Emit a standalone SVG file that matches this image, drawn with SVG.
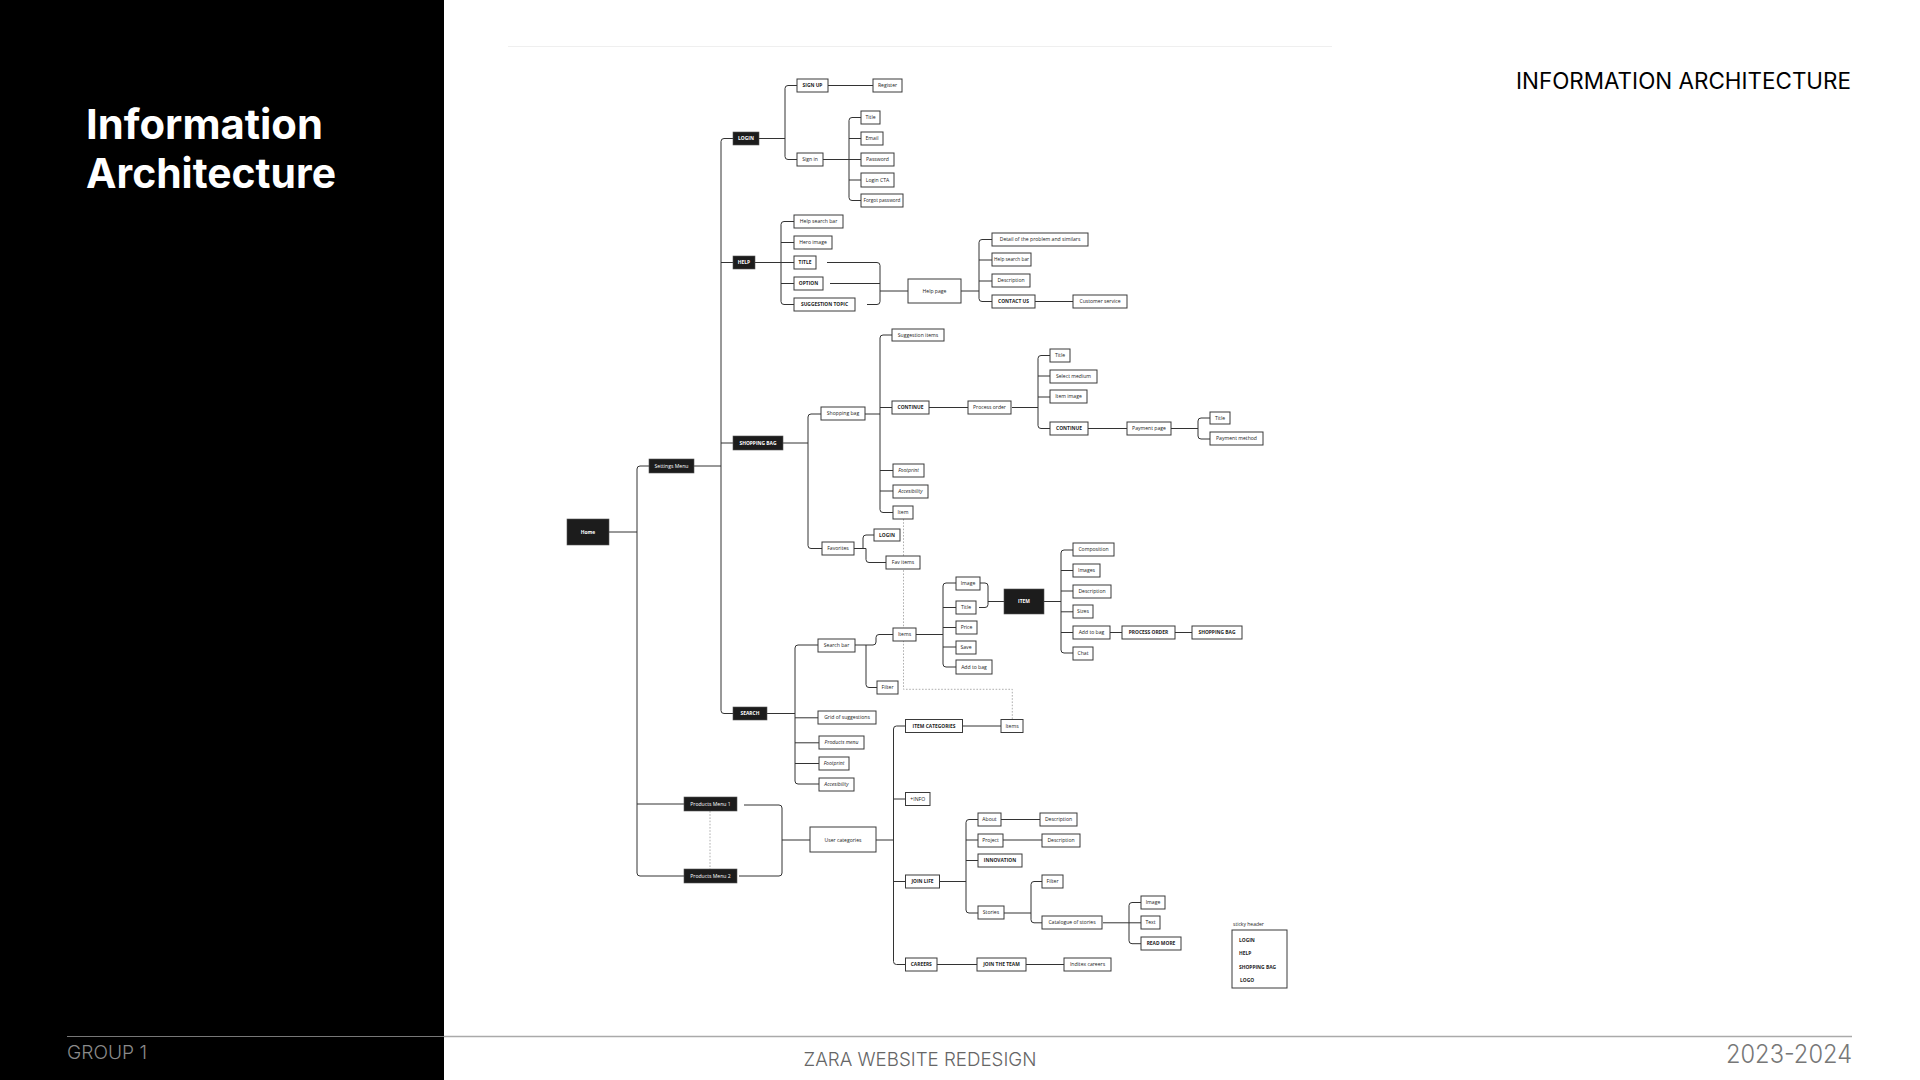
<svg xmlns="http://www.w3.org/2000/svg" width="1920" height="1080" viewBox="0 0 1920 1080">
<style>
.bk{fill:#1c1c1c;stroke:#555;stroke-width:0.6}
.wb{fill:#fff;stroke:#3a3a3a;stroke-width:1}
text{font-family:"Open Sans","Liberation Sans",sans-serif}
.t{font-size:5.1px;fill:#222;text-anchor:middle}
.tw{font-size:5.1px;fill:#fff;text-anchor:middle}
.b{font-weight:700;font-size:4.9px}
.i{font-style:italic}
.ln{fill:none;stroke:#333;stroke-width:1}
.dot{fill:none;stroke:#9a9a9a;stroke-width:0.8;stroke-dasharray:1.6 1.6}
.hd{font-family:Inter,"Liberation Sans",sans-serif}
</style>
<rect x="0" y="0" width="1920" height="1080" fill="#fff"/>
<rect x="0" y="0" width="444" height="1080" fill="#000"/>
<text class="hd" x="86" y="139" font-size="41" font-weight="700" fill="#fff" textLength="237" lengthAdjust="spacingAndGlyphs">Information</text>
<text class="hd" x="86" y="188" font-size="41" font-weight="700" fill="#fff" textLength="250" lengthAdjust="spacingAndGlyphs">Architecture</text>
<text class="hd" x="1851" y="89" font-size="22.5" fill="#000" text-anchor="end" textLength="335" lengthAdjust="spacingAndGlyphs">INFORMATION ARCHITECTURE</text>
<line x1="508" y1="46.5" x2="1332" y2="46.5" stroke="#efefef" stroke-width="1"/>
<line x1="67" y1="1036.5" x2="444" y2="1036.5" stroke="#777" stroke-width="1"/>
<line x1="444" y1="1036.5" x2="1852" y2="1036.5" stroke="#aaa" stroke-width="1.5"/>
<text class="hd" x="67" y="1059" font-size="19" font-weight="300" fill="#8a8a8a" textLength="80" lengthAdjust="spacingAndGlyphs">GROUP 1</text>
<text class="hd" x="920" y="1066" font-size="19" font-weight="300" fill="#666" text-anchor="middle" textLength="233" lengthAdjust="spacingAndGlyphs">ZARA WEBSITE REDESIGN</text>
<text class="hd" x="1852" y="1063" font-size="25" font-weight="300" fill="#777" text-anchor="end" textLength="126" lengthAdjust="spacingAndGlyphs">2023-2024</text>

<g id="connectors">
<path class="ln" d="M649,466 H640 Q637,466 637,469 V873 Q637,876 640,876 H684 M637,804 H684 M609,532 H637"/>
<path class="ln" d="M733,138.5 H724 Q721,138.5 721,141.5 V710.5 Q721,713.5 724,713.5 H733 M721,262.5 H733 M721,443 H733 M694,466 H721"/>
<path class="ln" d="M797,85.5 H788 Q785,85.5 785,88.5 V156.5 Q785,159.5 788,159.5 H797 M759,138.5 H785 M828,85.5 H873"/>
<path class="ln" d="M861,117.5 H852 Q849,117.5 849,120.5 V197.5 Q849,200.5 852,200.5 H861 M849,138.5 H861 M849,159.5 H861 M849,180 H861 M823,159.5 H849"/>
<path class="ln" d="M794,221.5 H784 Q781,221.5 781,224.5 V301.5 Q781,304.5 784,304.5 H794 M781,242.5 H794 M781,262.5 H794 M781,283.5 H794 M755,262.5 H781"/>
<path class="ln" d="M827,262.5 H877 Q880,262.5 880,265.5 V301.5 Q880,304.5 877,304.5 H867 M830,283.5 H880 M880,291 H908"/>
<path class="ln" d="M992,239.5 H982 Q979,239.5 979,242.5 V298.5 Q979,301.5 982,301.5 H992 M979,260 H992 M979,281 H992 M961,291 H979 M1035,301.5 H1073"/>
<path class="ln" d="M821,414 H811 Q808,414 808,417 V545.5 Q808,548.5 811,548.5 H822 M783,443 H808"/>
<path class="ln" d="M892,335 H883 Q880,335 880,338 V509.5 Q880,512.5 883,512.5 H893 M880,407.5 H892 M880,470.5 H893 M880,491 H893 M865,414 H880 M929,407.5 H968"/>
<path class="ln" d="M1050,355.5 H1041 Q1038,355.5 1038,358.5 V425.5 Q1038,428.5 1041,428.5 H1050 M1038,376 H1050 M1038,397 H1050 M1012,407.5 H1038 M1088,428.5 H1127"/>
<path class="ln" d="M1210,418 H1201 Q1198,418 1198,421 V436 Q1198,439 1201,439 H1210 M1171,428.5 H1198"/>
<path class="ln" d="M854,548.5 H866 M863,548.5 V538 Q863,535 866,535 H874 M866,548.5 V559.5 Q866,562.5 869,562.5 H886"/>
<path class="ln" d="M818,645 H798 Q795,645 795,648 V781 Q795,784 798,784 H819 M795,717.8 H818 M795,742.8 H819 M795,763.5 H819 M767,713.5 H795"/>
<path class="ln" d="M855,645 H873 Q876,645 876,642 V637.5 Q876,634.5 879,634.5 H893 M866,645 V684.5 Q866,687.5 869,687.5 H877"/>
<path class="ln" d="M956,583 H946 Q943,583 943,586 V664 Q943,667 946,667 H956 M943,607.5 H956 M943,627.5 H956 M943,647 H956 M916,634.5 H943"/>
<path class="ln" d="M980,583 H985 Q988,583 988,586 V604.5 Q988,607.5 985,607.5 H979 M988,601.5 H1004"/>
<path class="ln" d="M1073,550 H1064 Q1061,550 1061,553 V650 Q1061,653 1064,653 H1073 M1061,570.5 H1073 M1061,591 H1073 M1061,611.8 H1073 M1061,632.5 H1073 M1044,601.5 H1061 M1110,632.5 H1122 M1175,632.5 H1192"/>
<path class="ln" d="M744,805 H779 Q782,805 782,808 V873 Q782,876 779,876 H739 M782,840 H810"/>
<path class="ln" d="M905.5,726 H896.5 Q893.5,726 893.5,729 V961.5 Q893.5,964.5 896.5,964.5 H905.5 M893.5,799 H905.5 M893.5,881.5 H905.5 M876,840 H893.5 M962.5,726 H1001"/>
<path class="ln" d="M978,819.5 H969 Q966,819.5 966,822.5 V910 Q966,913 969,913 H978 M966,840 H978 M966,860.5 H978 M940,881.5 H966 M1001,819.5 H1040 M1003,840 H1042"/>
<path class="ln" d="M1042,881.5 H1034 Q1031,881.5 1031,884.5 V919.8 Q1031,922.8 1034,922.8 H1042 M1004,913 H1031"/>
<path class="ln" d="M1141,902.5 H1132 Q1129,902.5 1129,905.5 V940.7 Q1129,943.7 1132,943.7 H1141 M1129,922.8 H1141 M1103,922.8 H1129"/>
<path class="ln" d="M937,964.5 H977 M1026,964.5 H1064"/>
<path class="dot" d="M903.5,519 V689.3 H1012.3 V719.5 M710,811 V869"/>
</g>

<g id="n-home"><rect class="bk" x="567" y="519" width="42" height="26"/><text class="tw b" x="588" y="534">Home</text></g>
<g id="n-settings"><rect class="bk" x="649" y="459" width="45" height="14"/><text class="tw" x="671.5" y="467.8">Settings Menu</text></g>
<g id="n-login"><rect class="bk" x="733" y="132" width="26" height="13"/><text class="tw b" x="746" y="140.3">LOGIN</text></g>
<g id="n-help"><rect class="bk" x="733" y="256" width="22" height="13"/><text class="tw b" x="744" y="264.3">HELP</text></g>
<g id="n-shopbag"><rect class="bk" x="733" y="436" width="50" height="14"/><text class="tw b" x="758" y="444.8">SHOPPING BAG</text></g>
<g id="n-search"><rect class="bk" x="733" y="707" width="34" height="13"/><text class="tw b" x="750" y="715.3">SEARCH</text></g>
<g id="n-pm1"><rect class="bk" x="684" y="797" width="53" height="14"/><text class="tw" x="710.5" y="805.8">Products Menu 1</text></g>
<g id="n-pm2"><rect class="bk" x="684" y="869" width="53" height="14"/><text class="tw" x="710.5" y="877.8">Products Menu 2</text></g>

<g id="n-signup"><rect class="wb" x="797" y="79" width="31" height="13"/><text class="t b" x="812.5" y="87.3">SIGN UP</text></g>
<g id="n-register"><rect class="wb" x="873" y="79" width="29" height="13"/><text class="t" x="887.5" y="87.3">Register</text></g>
<g id="n-signin"><rect class="wb" x="797" y="153" width="26" height="13"/><text class="t" x="810" y="161.3">Sign in</text></g>
<g id="n-title1"><rect class="wb" x="861" y="111" width="19" height="13"/><text class="t" x="870.5" y="119.3">Title</text></g>
<g id="n-email"><rect class="wb" x="861" y="132" width="22" height="13"/><text class="t" x="872" y="140.3">Email</text></g>
<g id="n-password"><rect class="wb" x="861" y="153" width="33" height="13"/><text class="t" x="877.5" y="161.3">Password</text></g>
<g id="n-logincta"><rect class="wb" x="861" y="173" width="33" height="14"/><text class="t" x="877.5" y="181.8">Login CTA</text></g>
<g id="n-forgot"><rect class="wb" x="861" y="194" width="42" height="13"/><text class="t" x="882" y="202.3" textLength="37" lengthAdjust="spacingAndGlyphs">Forgot password</text></g>

<g id="n-helpsearch"><rect class="wb" x="794" y="215" width="49" height="13"/><text class="t" x="818.5" y="223.3">Help search bar</text></g>
<g id="n-hero"><rect class="wb" x="794" y="236" width="38" height="13"/><text class="t" x="813" y="244.3">Hero image</text></g>
<g id="n-titleh"><rect class="wb" x="794" y="256" width="22" height="13"/><text class="t b" x="805" y="264.3">TITLE</text></g>
<g id="n-option"><rect class="wb" x="794" y="277" width="29" height="13"/><text class="t b" x="808.5" y="285.3">OPTION</text></g>
<g id="n-sugg"><rect class="wb" x="794" y="298" width="61" height="13"/><text class="t b" x="824.5" y="306.3">SUGGESTION TOPIC</text></g>
<g id="n-helppage"><rect class="wb" x="908" y="279" width="53" height="24"/><text class="t" x="934.5" y="292.8">Help page</text></g>
<g id="n-detail"><rect class="wb" x="992" y="233" width="96" height="13"/><text class="t" x="1040" y="241.3">Detail of the problem and similars</text></g>
<g id="n-helpsearch2"><rect class="wb" x="992" y="253" width="39" height="13"/><text class="t" x="1011.5" y="261.3" textLength="35" lengthAdjust="spacingAndGlyphs">Help search bar</text></g>
<g id="n-desc1"><rect class="wb" x="992" y="274" width="38" height="13"/><text class="t" x="1011" y="282.3">Description</text></g>
<g id="n-contact"><rect class="wb" x="992" y="295" width="43" height="13"/><text class="t b" x="1013.5" y="303.3">CONTACT US</text></g>
<g id="n-customer"><rect class="wb" x="1073" y="295" width="54" height="13"/><text class="t" x="1100" y="303.3">Customer service</text></g>

<g id="n-shoppingbag"><rect class="wb" x="821" y="407" width="44" height="13"/><text class="t" x="843" y="415.3">Shopping bag</text></g>
<g id="n-favorites"><rect class="wb" x="822" y="542" width="32" height="13"/><text class="t" x="838" y="550.3">Favorites</text></g>
<g id="n-suggitems"><rect class="wb" x="892" y="329" width="52" height="12"/><text class="t" x="918" y="336.8">Suggestion items</text></g>
<g id="n-continue1"><rect class="wb" x="892" y="401" width="37" height="13"/><text class="t b" x="910.5" y="409.3">CONTINUE</text></g>
<g id="n-footprint1"><rect class="wb" x="893" y="464" width="31" height="13"/><text class="t i" x="908.5" y="472.3">Footprint</text></g>
<g id="n-access1"><rect class="wb" x="893" y="485" width="35" height="13"/><text class="t i" x="910.5" y="493.3">Accesibility</text></g>
<g id="n-item1"><rect class="wb" x="893" y="506" width="20" height="13"/><text class="t" x="903" y="514.3">Item</text></g>
<g id="n-processorder"><rect class="wb" x="968" y="401" width="43" height="13"/><text class="t" x="989.5" y="409.3">Process order</text></g>
<g id="n-title2"><rect class="wb" x="1050" y="349" width="20" height="13"/><text class="t" x="1060" y="357.3">Title</text></g>
<g id="n-selectmedium"><rect class="wb" x="1050" y="370" width="47" height="13"/><text class="t" x="1073.5" y="378.3">Select medium</text></g>
<g id="n-itemimage"><rect class="wb" x="1050" y="390" width="37" height="13"/><text class="t" x="1068.5" y="398.3">Item image</text></g>
<g id="n-continue2"><rect class="wb" x="1050" y="422" width="38" height="13"/><text class="t b" x="1069" y="430.3">CONTINUE</text></g>
<g id="n-payment"><rect class="wb" x="1127" y="422" width="44" height="13"/><text class="t" x="1149" y="430.3">Payment page</text></g>
<g id="n-title3"><rect class="wb" x="1210" y="412" width="20" height="12"/><text class="t" x="1220" y="419.8">Title</text></g>
<g id="n-paymethod"><rect class="wb" x="1210" y="432" width="53" height="13"/><text class="t" x="1236.5" y="440.3">Payment method</text></g>
<g id="n-login2"><rect class="wb" x="874" y="529" width="26" height="12"/><text class="t b" x="887" y="536.8">LOGIN</text></g>
<g id="n-favitems"><rect class="wb" x="886" y="556" width="34" height="13"/><text class="t" x="903" y="564.3">Fav items</text></g>

<g id="n-searchbar"><rect class="wb" x="818" y="639" width="37" height="13"/><text class="t" x="836.5" y="647.3">Search bar</text></g>
<g id="n-items1"><rect class="wb" x="893" y="628" width="23" height="13"/><text class="t" x="904.5" y="636.3">Items</text></g>
<g id="n-filter1"><rect class="wb" x="877" y="681" width="21" height="13"/><text class="t" x="887.5" y="689.3">Filter</text></g>
<g id="n-grid"><rect class="wb" x="818" y="711" width="58" height="13"/><text class="t" x="847" y="719.3">Grid of suggestions</text></g>
<g id="n-prodmenu"><rect class="wb" x="819" y="736" width="45" height="13"/><text class="t i" x="841.5" y="744.3">Products menu</text></g>
<g id="n-footprint2"><rect class="wb" x="819" y="757" width="30" height="13"/><text class="t i" x="834" y="765.3">Footprint</text></g>
<g id="n-access2"><rect class="wb" x="819" y="778" width="35" height="13"/><text class="t i" x="836.5" y="786.3">Accesibility</text></g>
<g id="n-image1"><rect class="wb" x="956" y="577" width="24" height="13"/><text class="t" x="968" y="585.3">Image</text></g>
<g id="n-title4"><rect class="wb" x="956" y="601" width="20" height="13"/><text class="t" x="966" y="609.3">Title</text></g>
<g id="n-price"><rect class="wb" x="956" y="621" width="21" height="13"/><text class="t" x="966.5" y="629.3">Price</text></g>
<g id="n-save"><rect class="wb" x="956" y="641" width="20" height="13"/><text class="t" x="966" y="649.3">Save</text></g>
<g id="n-addbag1"><rect class="wb" x="956" y="660" width="36" height="14"/><text class="t" x="974" y="668.8">Add to bag</text></g>
<g id="n-item"><rect class="bk" x="1004" y="589" width="40" height="25"/><text class="tw b" x="1024" y="603.3">ITEM</text></g>
<g id="n-composition"><rect class="wb" x="1073" y="543" width="41" height="13"/><text class="t" x="1093.5" y="551.3">Composition</text></g>
<g id="n-images"><rect class="wb" x="1073" y="564" width="27" height="13"/><text class="t" x="1086.5" y="572.3">Images</text></g>
<g id="n-desc2"><rect class="wb" x="1073" y="585" width="38" height="13"/><text class="t" x="1092" y="593.3">Description</text></g>
<g id="n-sizes"><rect class="wb" x="1073" y="605" width="20" height="13"/><text class="t" x="1083" y="613.3">Sizes</text></g>
<g id="n-addbag2"><rect class="wb" x="1073" y="626" width="37" height="13"/><text class="t" x="1091.5" y="634.3">Add to bag</text></g>
<g id="n-chat"><rect class="wb" x="1073" y="647" width="20" height="13"/><text class="t" x="1083" y="655.3">Chat</text></g>
<g id="n-processorder2"><rect class="wb" x="1122" y="626" width="53" height="13"/><text class="t b" x="1148.5" y="634.3">PROCESS ORDER</text></g>
<g id="n-shopbag2"><rect class="wb" x="1192" y="626" width="50" height="13"/><text class="t b" x="1217" y="634.3">SHOPPING BAG</text></g>

<g id="n-usercat"><rect class="wb" x="810" y="827" width="66" height="25"/><text class="t" x="843" y="841.8">User categories</text></g>
<g id="n-itemcat"><rect class="wb" x="905.5" y="719.5" width="57" height="13"/><text class="t b" x="934" y="727.8">ITEM CATEGORIES</text></g>
<g id="n-items2"><rect class="wb" x="1001" y="719.5" width="22" height="13"/><text class="t" x="1012" y="727.8">Items</text></g>
<g id="n-info"><rect class="wb" x="905.5" y="792.5" width="24.5" height="13"/><text class="t" x="917.75" y="800.8">+INFO</text></g>
<g id="n-joinlife"><rect class="wb" x="905.5" y="875" width="34" height="13"/><text class="t b" x="922.5" y="883.3">JOIN LIFE</text></g>
<g id="n-careers"><rect class="wb" x="905.5" y="958" width="31.5" height="13"/><text class="t b" x="921.25" y="966.3">CAREERS</text></g>
<g id="n-about"><rect class="wb" x="978" y="813" width="23" height="13"/><text class="t" x="989.5" y="821.3">About</text></g>
<g id="n-desc3"><rect class="wb" x="1040" y="813" width="37" height="13"/><text class="t" x="1058.5" y="821.3">Description</text></g>
<g id="n-project"><rect class="wb" x="978" y="834" width="25" height="13"/><text class="t" x="990.5" y="842.3">Project</text></g>
<g id="n-desc4"><rect class="wb" x="1042" y="834" width="38" height="13"/><text class="t" x="1061" y="842.3">Description</text></g>
<g id="n-innovation"><rect class="wb" x="978" y="854" width="44" height="13"/><text class="t b" x="1000" y="862.3">INNOVATION</text></g>
<g id="n-stories"><rect class="wb" x="978" y="906" width="26" height="13"/><text class="t" x="991" y="914.3">Stories</text></g>
<g id="n-filter2"><rect class="wb" x="1042" y="875" width="21" height="13"/><text class="t" x="1052.5" y="883.3">Filter</text></g>
<g id="n-catalogue"><rect class="wb" x="1042" y="916" width="60" height="13"/><text class="t" x="1072" y="924.3">Catalogue of stories</text></g>
<g id="n-image2"><rect class="wb" x="1141" y="896" width="24" height="13"/><text class="t" x="1153" y="904.3">Image</text></g>
<g id="n-text"><rect class="wb" x="1141" y="916" width="19" height="13"/><text class="t" x="1150.5" y="924.3">Text</text></g>
<g id="n-readmore"><rect class="wb" x="1141" y="937" width="40" height="13"/><text class="t b" x="1161" y="945.3">READ MORE</text></g>
<g id="n-jointeam"><rect class="wb" x="977" y="958" width="49" height="13"/><text class="t b" x="1001.5" y="966.3">JOIN THE TEAM</text></g>
<g id="n-inditex"><rect class="wb" x="1064" y="958" width="47" height="13"/><text class="t" x="1087.5" y="966.3">Inditex careers</text></g>

<g id="n-sticky">
<text class="t" x="1233" y="926" style="text-anchor:start;font-size:5px">sticky header</text>
<rect class="wb" x="1232" y="930" width="55" height="58"/>
<text class="t b" x="1239" y="942" style="text-anchor:start">LOGIN</text>
<text class="t b" x="1239" y="954.5" style="text-anchor:start">HELP</text>
<text class="t b" x="1239" y="969" style="text-anchor:start">SHOPPING BAG</text>
<text class="t b" x="1240" y="981.5" style="text-anchor:start">LOGO</text>
</g>
</svg>
